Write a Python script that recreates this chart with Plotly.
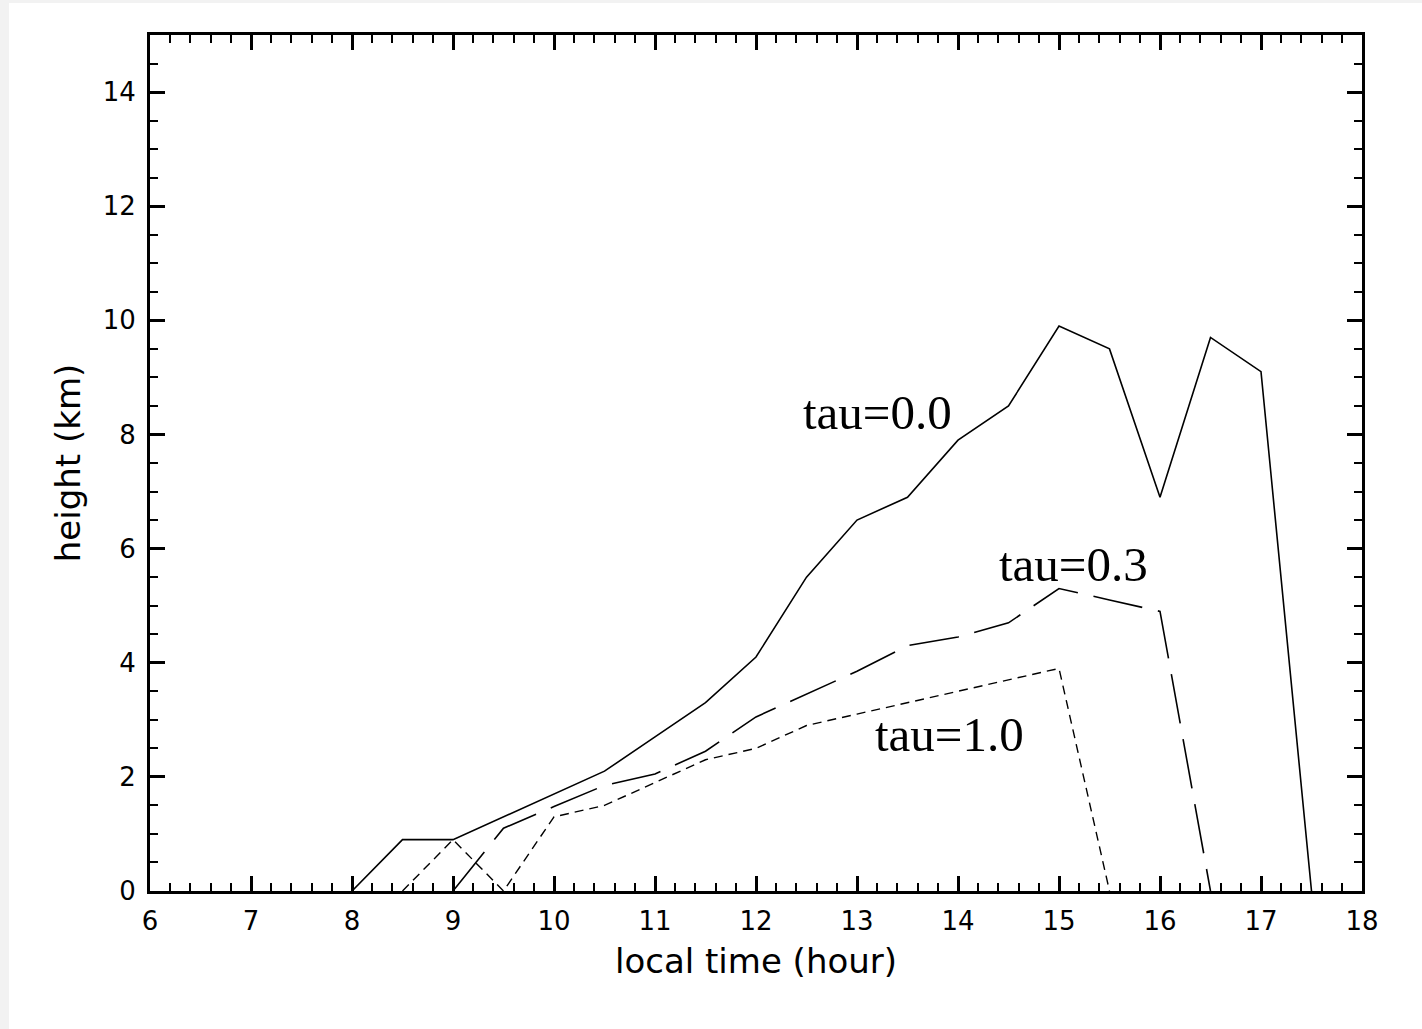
import plotly.graph_objects as go

# Data (local time in hours, cloud height in km)
time_00 = [8.0, 8.5, 9.0, 9.5, 10.0, 10.5, 11.0, 11.5, 12.0, 12.5, 13.0, 13.5, 14.0, 14.5, 15.0, 15.5, 16.0, 16.5, 17.0, 17.5]
height_00 = [0.0, 0.9, 0.9, 1.3, 1.7, 2.1, 2.7, 3.3, 4.1, 5.5, 6.5, 6.9, 7.9, 8.5, 9.9, 9.5, 6.9, 9.7, 9.1, 0.0]

time_03 = [9.0, 9.5, 10.0, 10.5, 11.0, 11.5, 12.0, 12.5, 13.0, 13.5, 14.0, 14.5, 15.0, 15.5, 16.0, 16.5]
height_03 = [0.0, 1.1, 1.48, 1.85, 2.05, 2.45, 3.05, 3.45, 3.85, 4.3, 4.45, 4.7, 5.3, 5.1, 4.9, 0.0]

time_10 = [8.5, 9.0, 9.5, 10.0, 10.5, 11.0, 11.5, 12.0, 12.5, 13.0, 13.5, 14.0, 14.5, 15.0, 15.5]
height_10 = [0.0, 0.9, 0.0, 1.3, 1.5, 1.9, 2.3, 2.5, 2.9, 3.1, 3.3, 3.5, 3.7, 3.9, 0.0]

labels = ["tau=0.0", "tau=0.3", "tau=1.0"]
label_x = [13.2, 15.14, 13.92]
label_y = [8.39, 5.72, 2.74]

x_ticks = list(range(6, 19))
y_ticks = list(range(0, 15, 2))

fig = go.Figure()
fig.add_trace(go.Scatter(x=time_00, y=height_00, mode="lines",
                         line=dict(color="black", width=1.6), name=labels[0]))
fig.add_trace(go.Scatter(x=time_03, y=height_03, mode="lines",
                         line=dict(color="black", width=1.6, dash="50px,16px"), name=labels[1]))
fig.add_trace(go.Scatter(x=time_10, y=height_10, mode="lines",
                         line=dict(color="black", width=1.4, dash="9px,6px"), name=labels[2]))

for t, xx, yy in zip(labels, label_x, label_y):
    fig.add_annotation(x=xx, y=yy, text=t, showarrow=False,
                       font=dict(family="Liberation Serif", size=49, color="black"))

# page edge: light grey strips on top and left
fig.add_shape(type="rect", xref="paper", yref="paper",
              x0=-150 / 1212, x1=(9 - 150) / 1212, y0=-0.3, y1=1.2,
              fillcolor="#f2f2f2", line=dict(width=0), layer="below")
fig.add_shape(type="rect", xref="paper", yref="paper",
              x0=-0.2, x1=1.2, y0=(891 - 3) / 856, y1=1.2,
              fillcolor="#f2f2f2", line=dict(width=0), layer="below")

tick_font = dict(family="DejaVu Sans", size=26, color="black")
fig.update_xaxes(range=[6, 18], tickmode="array", tickvals=x_ticks,
                 ticktext=[str(v) for v in x_ticks],
                 ticks="inside", ticklen=15, tickwidth=3, tickcolor="black",
                 minor=dict(dtick=0.2, tick0=6, ticks="inside", ticklen=8, tickwidth=2, tickcolor="black"),
                 showline=True, linewidth=3, linecolor="black", mirror="ticks",
                 showgrid=False, zeroline=False, tickfont=tick_font, ticklabelstandoff=5,
                 title=dict(text="local time (hour)", font=dict(family="DejaVu Sans", size=34, color="black"),
                            standoff=14))
fig.update_yaxes(range=[0, 15], tickmode="array", tickvals=y_ticks,
                 ticktext=[str(v) for v in y_ticks],
                 ticks="inside", ticklen=15, tickwidth=3, tickcolor="black",
                 minor=dict(dtick=0.5, tick0=0, ticks="inside", ticklen=8, tickwidth=2, tickcolor="black"),
                 showline=True, linewidth=3, linecolor="black", mirror="ticks",
                 showgrid=False, zeroline=False, tickfont=tick_font, ticklabelstandoff=6,
                 title=dict(text="height (km)", font=dict(family="DejaVu Sans", size=34, color="black"),
                            standoff=12))

fig.update_layout(width=1422, height=1029,
                  margin=dict(l=150, r=60, t=35, b=138),
                  paper_bgcolor="white", plot_bgcolor="white",
                  showlegend=False)

fig.write_html("out.html")
